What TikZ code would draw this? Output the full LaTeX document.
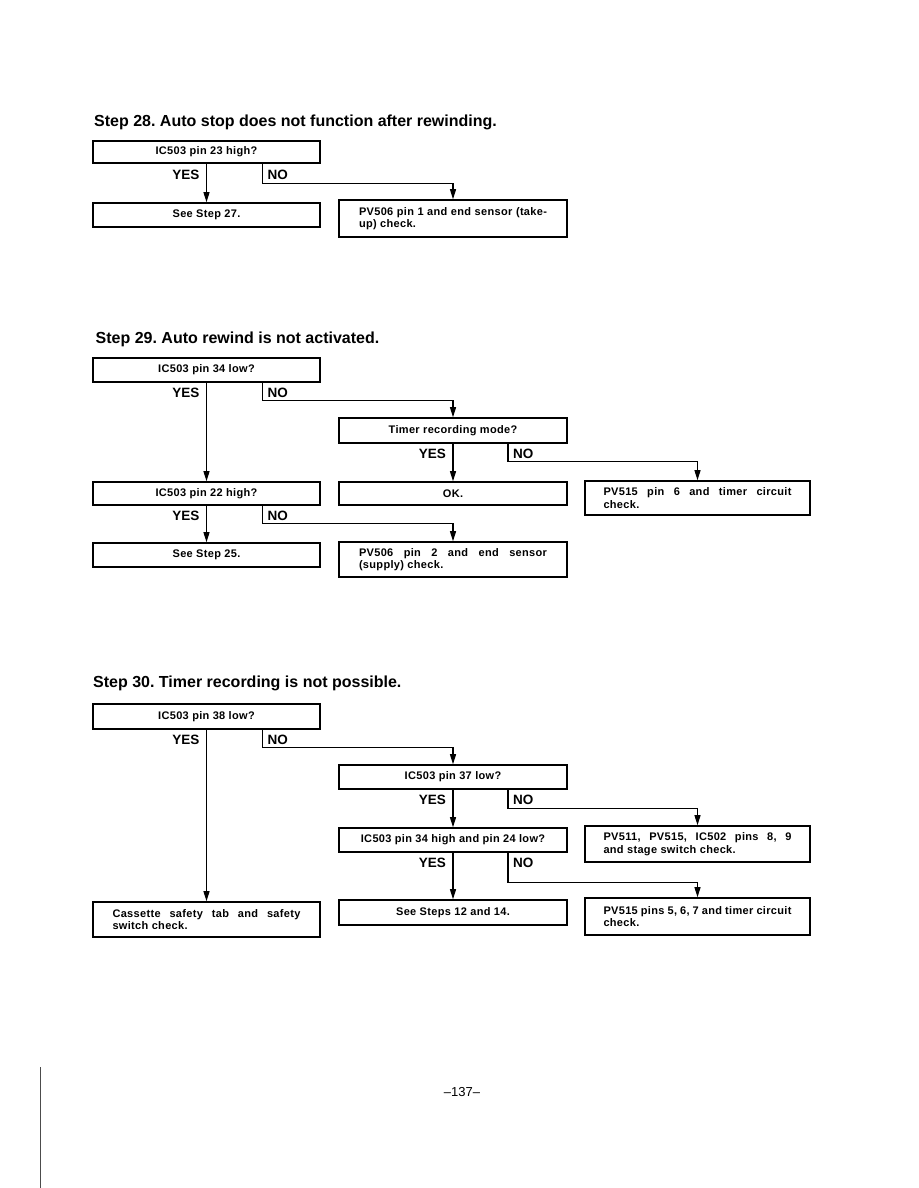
\documentclass[tikz,border=0pt]{standalone}
\usepackage{fontspec}
\setmainfont{Liberation Sans}
\newfontfamily\boxfont[LetterSpace=3]{Liberation Sans}
\usetikzlibrary{arrows.meta,calc}
\frenchspacing
\begin{document}
\begin{tikzpicture}[x=1pt,y=-1pt,
  box/.style={draw,line width=1.6pt,inner sep=0pt,font=\boxfont\fontsize{11}{12.4}\selectfont\bfseries},
  lbox/.style={box,minimum width=227,text width=188,align=justify},
  conn/.style={line width=1.1pt,-{Triangle[length=10pt,width=6pt]}},
  yeslbl/.style={font=\fontsize{13.5}{14}\selectfont\bfseries,anchor=east,inner sep=0pt},
  nolbl/.style={font=\fontsize{13.5}{14}\selectfont\bfseries,anchor=west,inner sep=0pt},
  ttl/.style={font=\fontsize{16}{18}\selectfont\bfseries,anchor=base west,inner sep=0pt}]
\useasboundingbox (0,0) rectangle (918,1188);

% ---------------- Step 28 ----------------
\node[ttl] (t28) at (94,127) {Step 28. Auto stop does not function after rewinding.};
\node[box,minimum width=227,minimum height=22] (a1) at (206.5,152) {IC503 pin 23 high?};
\node[box,minimum width=227,minimum height=24] (a2) at (206.5,215) {See Step 27.};
\node[lbox,minimum width=228,minimum height=37] (a3) at (453,218.5) {PV506 pin 1 and end sensor (take-\linebreak up) check.};
\draw[conn] (a1.south) -- (a2.north);
\draw[conn] ($(a1.south)+(56,0)$) -- ++(0,20) -| (a3.north);
\node[yeslbl] (a1y) at ($(a1.south)+(-7,11)$) {YES};
\node[nolbl] (a1n) at ($(a1.south)+(61,11)$) {NO};

% ---------------- Step 29 ----------------
\node[ttl] (t29) at (95.5,343) {Step 29. Auto rewind is not activated.};
\node[box,minimum width=227,minimum height=24] (b1) at (206.5,370) {IC503 pin 34 low?};
\node[box,minimum width=227,minimum height=23] (b2) at (206.5,493.5) {IC503 pin 22 high?};
\node[box,minimum width=227,minimum height=24] (b3) at (206.5,555) {See Step 25.};
\node[box,minimum width=228,minimum height=25] (b4) at (453,430.5) {Timer recording mode?};
\node[box,minimum width=228,minimum height=23] (b5) at (453,493.5) {OK.};
\node[lbox,minimum width=225,minimum height=34] (b6) at (697.5,498) {PV515 pin 6 and timer circuit\linebreak check.};
\node[lbox,minimum width=228,minimum height=35] (b7) at (453,559.5) {PV506 pin 2 and end sensor\linebreak (supply) check.};
\draw[conn] (b1.south) -- (b2.north);
\draw[conn] ($(b1.south)+(56,0)$) -- ++(0,18) -| (b4.north);
\draw[conn] (b4.south) -- (b5.north);
\draw[conn] ($(b4.south)+(55,0)$) -- ++(0,18) -| (b6.north);
\draw[conn] (b2.south) -- (b3.north);
\draw[conn] ($(b2.south)+(56,0)$) -- ++(0,18) -| (b7.north);
\node[yeslbl] (b1y) at ($(b1.south)+(-7,10)$) {YES};
\node[nolbl] (b1n) at ($(b1.south)+(61,10)$) {NO};
\node[yeslbl] (b4y) at ($(b4.south)+(-7,10)$) {YES};
\node[nolbl] (b4n) at ($(b4.south)+(60,10)$) {NO};
\node[yeslbl] (b2y) at ($(b2.south)+(-7,10)$) {YES};
\node[nolbl] (b2n) at ($(b2.south)+(61,10)$) {NO};

% ---------------- Step 30 ----------------
\node[ttl] (t30) at (93,687) {Step 30. Timer recording is not possible.};
\node[box,minimum width=227,minimum height=25] (c1) at (206.5,716.5) {IC503 pin 38 low?};
\node[lbox,minimum width=227,minimum height=35] (c2) at (206.5,919.5) {Cassette safety tab and safety\linebreak switch check.};
\node[box,minimum width=228,minimum height=24] (c3) at (453,777) {IC503 pin 37 low?};
\node[box,minimum width=228,minimum height=24] (c4) at (453,840) {IC503 pin 34 high and pin 24 low?};
\node[box,minimum width=228,minimum height=25] (c5) at (453,912.5) {See Steps 12 and 14.};
\node[lbox,minimum width=225,minimum height=36] (c6) at (697.5,844) {PV511, PV515, IC502 pins 8, 9\linebreak and stage switch check.};
\node[lbox,minimum width=225,minimum height=37] (c7) at (697.5,916.5) {PV515 pins 5, 6, 7 and timer circuit\linebreak check.};
\draw[conn] (c1.south) -- (c2.north);
\draw[conn] ($(c1.south)+(56,0)$) -- ++(0,18) -| (c3.north);
\draw[conn] (c3.south) -- (c4.north);
\draw[conn] ($(c3.south)+(55,0)$) -- ++(0,19) -| (c6.north);
\draw[conn] (c4.south) -- (c5.north);
\draw[conn] ($(c4.south)+(55,0)$) -- ++(0,30) -| (c7.north);
\node[yeslbl] (c1y) at ($(c1.south)+(-7,10)$) {YES};
\node[nolbl] (c1n) at ($(c1.south)+(61,10)$) {NO};
\node[yeslbl] (c3y) at ($(c3.south)+(-7,10)$) {YES};
\node[nolbl] (c3n) at ($(c3.south)+(60,10)$) {NO};
\node[yeslbl] (c4y) at ($(c4.south)+(-7,10)$) {YES};
\node[nolbl] (c4n) at ($(c4.south)+(60,10)$) {NO};

% ---------------- page number and margin line ----------------
\node[font=\fontsize{13}{14}\selectfont,inner sep=0pt] (pg) at (462,1092) {–137–};
\coordinate (m1) at (40,1067);
\coordinate (m2) at (40,1188);
\draw[line width=1pt,black!70] (m1) -- (m2);
\end{tikzpicture}
\end{document}
